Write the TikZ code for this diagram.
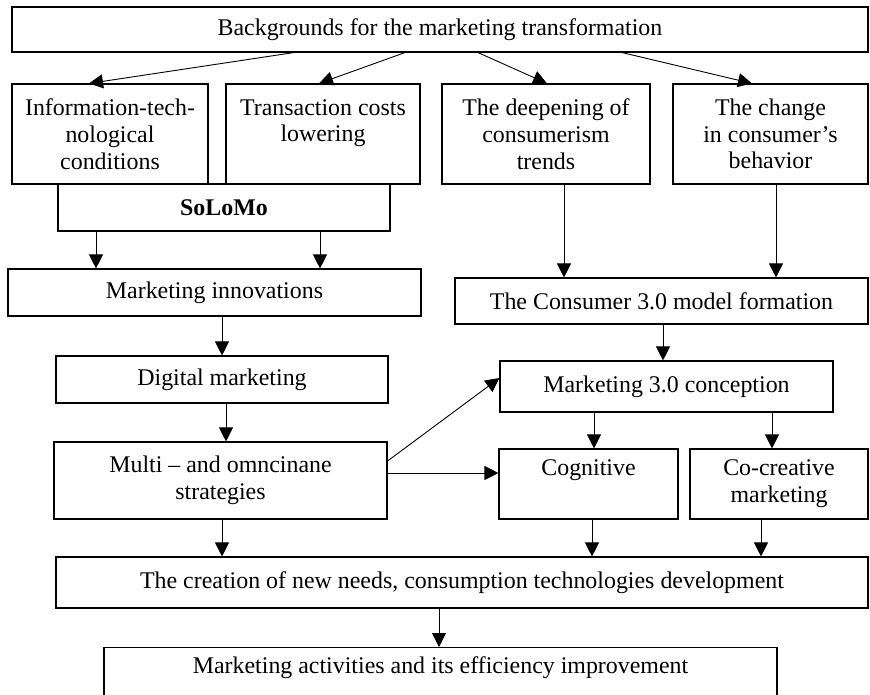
\documentclass[tikz,border=0pt]{standalone}
\usepackage{fontspec}
\setmainfont{Liberation Serif}
\usepackage{tikz}
\usetikzlibrary{arrows.meta}

\begin{document}
\begin{tikzpicture}[x=1pt,y=-1pt]
\tikzset{box/.style={draw,line width=1.1pt,inner sep=0pt,align=center,font=\fontsize{23.9}{26.8}\selectfont},
         arr/.style={line width=0.9pt,-{Triangle[length=14pt,width=14pt]}}};

    \useasboundingbox (0,0) rectangle (870,694);

    % top row
    \node[box,minimum width=856pt,minimum height=45pt] (top) at (440,29.5) {Backgrounds for the marketing transformation};
    \node[box,minimum width=196pt,minimum height=100pt] (info) at (110,134) {Information-tech-\\nological\\conditions};
    \node[box,minimum width=194pt,minimum height=100pt] (trans) at (323,134) {Transaction costs\\lowering\\\mbox{}};
    \node[box,minimum width=208pt,minimum height=100pt] (deep) at (546,134) {The deepening of\\consumerism\\trends};
    \node[box,minimum width=195pt,minimum height=100pt] (change) at (770.5,134) {The change\\in consumer’s\\behavior};
    \node[box,minimum width=332pt,minimum height=47pt] (solomo) at (224,207.5) {\textbf{SoLoMo}};

    % left column
    \node[box,minimum width=413pt,minimum height=47pt] (innov) at (214.5,292.5) {Marketing innovations};
    \node[box,minimum width=332pt,minimum height=47pt] (digital) at (222,379.5) {Digital marketing};
    \node[box,minimum width=333pt,minimum height=77pt] (multi) at (220.5,480.5) {Multi -- and omncinane\\strategies};

    % right column
    \node[box,minimum width=413pt,minimum height=46pt] (consumer) at (661.5,301) {The Consumer 3.0 model formation};
    \node[box,minimum width=333pt,minimum height=51pt] (mthree) at (666.5,386.5) {Marketing 3.0 conception};
    \node[box,minimum width=179pt,minimum height=70pt] (cogn) at (588.5,484) {Cognitive\\\phantom{g}};
    \node[box,minimum width=178pt,minimum height=70pt] (cocreate) at (779,484) {Co-creative\\marketing};

    % bottom
    \node[box,minimum width=812pt,minimum height=51pt] (creation) at (462,582.5) {The creation of new needs, consumption technologies development};
    \node[box,minimum width=673pt,anchor=north,text height=26pt,text depth=30pt] (activ) at (440.5,647) {Marketing activities and its efficiency improvement};

    % arrows
    \draw[arr] (top.south -| 294,0) -- (info.north -| 89,0);
    \draw[arr] (top.south -| 405,0) -- (trans.north -| 319,0);
    \draw[arr] (top.south -| 478,0) -- (deep.north -| 547,0);
    \draw[arr] (top.south -| 622,0) -- (change.north -| 752,0);

    \draw[arr] (solomo.south -| 96,0) -- (innov.north -| 96,0);
    \draw[arr] (solomo.south -| 320,0) -- (innov.north -| 320,0);
    \draw[arr] (innov.south -| 222,0) -- (digital.north -| 222,0);
    \draw[arr] (digital.south -| 226,0) -- (multi.north -| 226,0);

    \draw[arr] (deep.south -| 564,0) -- (consumer.north -| 564,0);
    \draw[arr] (change.south -| 776,0) -- (consumer.north -| 776,0);
    \draw[arr] (consumer.south -| 663,0) -- (mthree.north -| 663,0);
    \draw[arr] (mthree.south -| 594,0) -- (cogn.north -| 594,0);
    \draw[arr] (mthree.south -| 772,0) -- (cocreate.north -| 772,0);

    \draw[arr] (multi.east |- 0,461) -- (mthree.west |- 0,378);
    \draw[arr] (multi.east |- 0,473) -- (cogn.west |- 0,473);

    \draw[arr] (multi.south -| 222,0) -- (creation.north -| 222,0);
    \draw[arr] (cogn.south -| 592,0) -- (creation.north -| 592,0);
    \draw[arr] (cocreate.south -| 761,0) -- (creation.north -| 761,0);
    \draw[arr] (creation.south -| 439,0) -- (activ.north -| 439,0);
\end{tikzpicture}
\end{document}
